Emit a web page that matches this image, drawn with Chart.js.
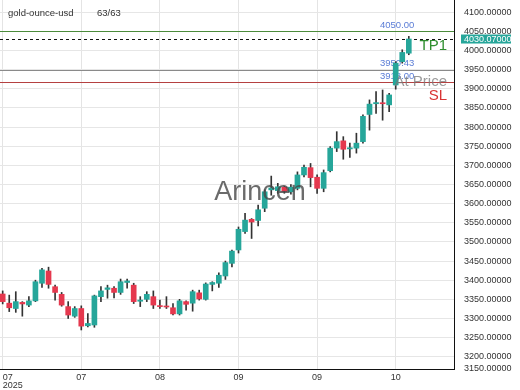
<!DOCTYPE html>
<html>
<head>
<meta charset="utf-8">
<script src="https://cdn.jsdelivr.net/npm/chart.js@4.4.1/dist/chart.umd.min.js"></script>
<style>
  body { margin: 0; background: #fff; }
  #wrap { width: 520px; height: 390px; position: relative; }
</style>
</head>
<body>
<div id="wrap"><canvas id="myChart"></canvas></div>
<script>
// gold-ounce-usd, daily candles (63)
const opens  = [3364,3340,3326,3342,3335,3346,3392,3424,3383,3363,3331,3306,3326,3281,3283,3357,3376,3379,3368,3394,3387,3345,3350,3357,3332,3331,3328,3312,3344,3340,3367,3350,3389,3392,3411,3444,3479,3527,3559,3556,3588,3636,3634,3643,3631,3640,3675,3694,3669,3640,3686,3745,3764,3743,3745,3762,3833,3861,3863,3858,3910,3971,3993];
const highs  = [3372,3361,3370,3344,3357,3400,3431,3434,3387,3368,3344,3331,3333,3313,3361,3383,3387,3383,3403,3403,3392,3357,3370,3372,3348,3357,3339,3350,3346,3374,3374,3393,3396,3419,3450,3479,3539,3575,3561,3596,3636,3672,3653,3646,3650,3683,3701,3705,3675,3688,3749,3788,3775,3758,3784,3832,3871,3893,3897,3888,3971,4002,4037];
const lows   = [3338,3318,3316,3306,3331,3344,3381,3379,3348,3332,3300,3303,3270,3278,3277,3344,3353,3354,3363,3379,3339,3331,3344,3326,3326,3326,3309,3309,3322,3319,3348,3348,3372,3381,3402,3435,3471,3522,3509,3542,3579,3622,3627,3627,3625,3636,3670,3644,3627,3631,3683,3736,3716,3721,3732,3758,3792,3836,3818,3840,3899,3967,3989];
const closes = [3344,3328,3344,3338,3346,3396,3427,3389,3368,3335,3309,3326,3280,3287,3359,3372,3380,3368,3396,3398,3344,3348,3363,3335,3331,3330,3312,3346,3337,3370,3351,3390,3394,3413,3446,3476,3533,3557,3552,3584,3631,3641,3644,3632,3643,3675,3695,3668,3640,3681,3745,3762,3742,3746,3758,3828,3860,3864,3861,3884,3967,3995,4030.07];

// x ticks (candle index -> month label)
const tickIndex  = [0, 12, 24, 36, 48, 60];
const tickLabels = [['07', '2025'], '07', '08', '09', '09', '10'];
// y ticks
const yTicks = [3168,3200,3250,3300,3350,3400,3450,3500,3550,3600,3650,3700,3750,3800,3850,3900,3950,4000,4050,4100];

// trade levels
const tpLevel = 4050;
const lastPrice = 4030.07;
const entryLevel = 3950.43;
const slLevel = 3918;

const green = '#26a69a';
const red = '#e5384e';
const FONT = "'Liberation Sans', Arial, sans-serif";
Chart.defaults.font.family = FONT;

const overlay = {
  id: 'overlay',
  beforeDatasetsDraw(chart) {
    const {ctx, chartArea: a, scales: {y}} = chart;
    const hline = (v, color, dash) => {
      const py = Math.round(y.getPixelForValue(v)) + 0.5;
      ctx.beginPath();
      ctx.setLineDash(dash);
      ctx.strokeStyle = color;
      ctx.lineWidth = 1;
      ctx.moveTo(a.left, py);
      ctx.lineTo(a.right, py);
      ctx.stroke();
    };
    ctx.save();
    hline(tpLevel, '#4b8b3b', []);
    hline(lastPrice, '#111', [3, 3]);
    hline(entryLevel, '#8a8a8a', []);
    hline(slLevel, '#b54040', []);
    ctx.setLineDash([]);
    ctx.font = '9.5px ' + FONT;
    ctx.fillStyle = '#5b7dd6';
    ctx.textAlign = 'left';
    ctx.textBaseline = 'middle';
    [tpLevel, entryLevel, slLevel].forEach(v => {
      ctx.fillText(v.toFixed(2), a.right - 74, y.getPixelForValue(v) - 6);
    });
    ctx.restore();
  },
  afterDatasetsDraw(chart) {
    const {ctx, chartArea: a, scales: {y}} = chart;
    ctx.save();
    ctx.textBaseline = 'middle';
    ctx.textAlign = 'right';
    ctx.font = '15px ' + FONT;
    ctx.fillStyle = '#2f8f2f';
    ctx.fillText('TP1', a.right - 7, y.getPixelForValue(tpLevel) + 14);
    ctx.fillStyle = 'rgba(120,120,120,0.75)';
    ctx.fillText('At Price', a.right - 7, y.getPixelForValue(slLevel));
    ctx.fillStyle = '#d93434';
    ctx.fillText('SL', a.right - 7, y.getPixelForValue(slLevel) + 13.5);
    // watermark
    ctx.textAlign = 'center';
    ctx.font = '27px ' + FONT;
    ctx.fillStyle = 'rgba(70,70,70,0.8)';
    ctx.fillText('Arincen', chart.width / 2, chart.height / 2 - 2);
    ctx.restore();
  },
  afterDraw(chart) {
    const {ctx, chartArea: a, scales: {y}} = chart;
    ctx.save();
    const py = y.getPixelForValue(lastPrice);
    ctx.fillStyle = green;
    ctx.fillRect(a.right + 7, py - 4.5, 50, 9);
    ctx.fillStyle = '#fff';
    ctx.font = '9px ' + FONT;
    ctx.textAlign = 'left';
    ctx.textBaseline = 'middle';
    ctx.fillText(lastPrice.toFixed(5), a.right + 10, py);
    // symbol header
    ctx.fillStyle = '#333';
    ctx.font = '9.5px ' + FONT;
    ctx.fillText('gold-ounce-usd', 8, 13);
    ctx.fillText('63/63', 97, 13);
    ctx.restore();
  }
};

const ctx = document.getElementById('myChart');

new Chart(ctx, {
  type: 'bar',
  data: {
    datasets: [
      {
        label: 'body',
        data: opens.map((o, i) => ({ x: i, y: [o, closes[i]] })),
        backgroundColor: opens.map((o, i) => closes[i] >= o ? green : red),
        barThickness: 5,
        minBarLength: 1,
        grouped: false,
        order: 0
      },
      {
        label: 'wick',
        data: lows.map((l, i) => ({ x: i, y: [l, highs[i]] })),
        backgroundColor: '#333',
        barThickness: 1,
        grouped: false,
        order: 1
      }
    ]
  },
  options: {
    responsive: true,
    maintainAspectRatio: false,
    animation: false,
    events: [],
    layout: { padding: 0 },
    plugins: { legend: { display: false }, tooltip: { enabled: false } },
    scales: {
      x: {
        type: 'linear',
        min: -0.41,
        max: 68.9,
        offset: false,
        grid: {
          offset: false,
          drawTicks: false,
          color: c => c.index < tickIndex.length ? '#e4e4e4' : 'rgba(0,0,0,0)'
        },
        border: { color: '#111' },
        afterBuildTicks: s => {
          s.ticks = tickIndex.map(v => ({ value: v })).concat([{ value: 68.9 }]);
        },
        ticks: {
          autoSkip: false,
          maxRotation: 0,
          align: 'inner',
          padding: 4,
          color: '#333',
          font: { size: 9, lineHeight: 0.92 },
          callback: (v, i) => i < tickLabels.length ? tickLabels[i] : ''
        },
        afterFit: s => { s.height = 21; s.paddingLeft = 0; s.paddingRight = 0; }
      },
      y: {
        position: 'right',
        min: 3168,
        max: 4132,
        grid: { color: '#e6e6e6', drawTicks: false },
        border: { color: '#111' },
        afterBuildTicks: s => { s.ticks = yTicks.map(v => ({ value: v })); },
        ticks: {
          padding: 10,
          color: '#333',
          font: { size: 9 },
          callback: v => (Math.floor(v / 50) * 50).toFixed(5)
        },
        afterFit: s => { s.width = 66; s.paddingTop = 0; s.paddingBottom = 0; }
      }
    }
  },
  plugins: [overlay]
});
</script>
</body>
</html>
